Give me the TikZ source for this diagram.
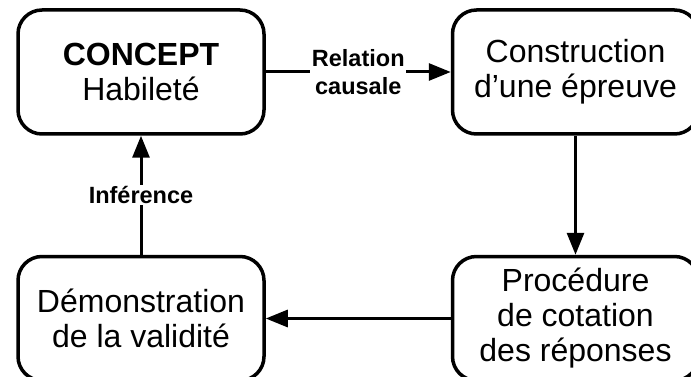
\documentclass[tikz,border=0pt]{standalone}
\usepackage{fontspec}
\setmainfont{Liberation Sans}
\usetikzlibrary{arrows.meta}
\usetikzlibrary{positioning}

\tikzset{
  etape/.style={draw, line width=3.5pt, rounded corners=24pt,
    minimum width=246pt, minimum height=124pt, align=center,
    font=\fontsize{32}{35}\selectfont},
  fleche/.style={line width=3pt, -{Triangle[length=22pt, width=17pt]}},
  lien/.style={fill=white, inner sep=1.5pt, align=center,
    font=\fontsize{23.5}{28}\selectfont\bfseries}
}

\begin{document}
\begin{tikzpicture}[x=1pt, y=-1pt]
      \useasboundingbox (0,0) rectangle (691,377);

      \node[etape] (concept) at (141,72) {\textbf{CONCEPT}\\Habileté};
      \node[etape, right=185pt of concept] (epreuve) {Construction\\d’une épreuve};
      \node[etape, below=119pt of epreuve] (cotation) {Procédure\\de cotation\\des réponses};
      \node[etape, below=119pt of concept] (validite) {Démonstration\\de la validité};

      \draw[fleche] (concept) -- node[lien] {Relation\\causale} (epreuve);
      \draw[fleche] (epreuve) -- (cotation);
      \draw[fleche] (cotation) -- (validite);
      \draw[fleche] (validite) -- node[lien] {Inférence} (concept);

    \end{tikzpicture}
\end{document}
